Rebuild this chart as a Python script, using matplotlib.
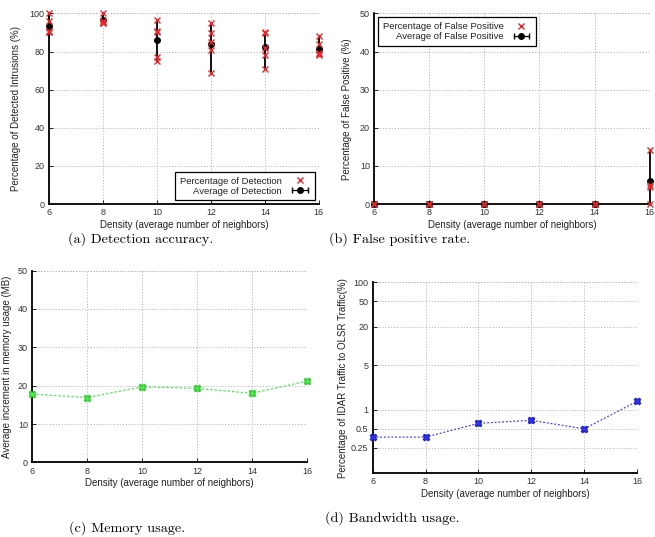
import numpy as np
import matplotlib
matplotlib.use('Agg')
import matplotlib.pyplot as plt
from matplotlib.lines import Line2D
from matplotlib.legend_handler import HandlerLine2D

plt.rcParams['font.family'] = ['Liberation Sans', 'DejaVu Sans']
plt.rcParams['font.size'] = 6.5

density = [6, 8, 10, 12, 14, 16]

# detection rate per run (%) for each density
detection_runs = [
    [100, 96, 91, 90, 90.5],
    [100, 96, 95.5, 95, 95],
    [96.5, 91, 90, 77, 75],
    [95, 89.5, 85, 81, 69],
    [90.5, 89.5, 82, 78, 71],
    [88, 84, 79, 78, 78.5],
]

# false positive rate per run (%)
false_pos_runs = [
    [0, 0, 0, 0],
    [0, 0, 0, 0],
    [0, 0, 0, 0],
    [0, 0, 0, 0],
    [0, 0, 0, 0],
    [14.3, 5, 4.6, 0],
]

memory_mb = [17.8, 16.9, 19.7, 19.3, 18.0, 21.2]
bandwidth_pct = [0.37, 0.37, 0.61, 0.68, 0.50, 1.35]

grid_kw = dict(color='#b8b8b8', linestyle=(0, (1.2, 1.8)), linewidth=0.7)


def style_axes(ax):
    ax.spines['top'].set_visible(False)
    ax.spines['right'].set_visible(False)
    ax.spines['left'].set_linewidth(1.3)
    ax.spines['bottom'].set_linewidth(1.3)
    ax.grid(True, **grid_kw)
    ax.set_axisbelow(True)
    ax.tick_params(direction='in', length=3, width=0.6, labelsize=6.5, pad=3,
                   labelcolor='#333333')
    ax.set_xlim(6, 16)
    ax.set_xticks(density)
    ax.set_xlabel('Density (average number of neighbors)', fontsize=7, labelpad=2,
                  color='#222222')
    # grid lines at top and right edges
    ax.axhline(ax.get_ylim()[1], zorder=0, **grid_kw)
    ax.axvline(16, zorder=0, **grid_kw)


def runs_plot(ax, runs, label_pct, label_avg, legend_loc):
    xs, ys = [], []
    for d, r in zip(density, runs):
        xs += [d] * len(r)
        ys += r
    means = [np.mean(r) for r in runs]
    lo = [m - min(r) for m, r in zip(means, runs)]
    hi = [max(r) - m for m, r in zip(means, runs)]
    ax.errorbar(density, means, yerr=[lo, hi], fmt='o', color='black',
                markersize=4, elinewidth=1.3, capsize=0, zorder=3, clip_on=False)
    ax.plot(xs, ys, 'x', color='#e8262a', markersize=5, markeredgewidth=1.0,
            zorder=4, clip_on=False)
    line = Line2D([], [], color='black', marker='|', markersize=5, linewidth=0.9)
    dot = Line2D([], [], color='black', marker='o', linestyle='none', markersize=4)
    cross = Line2D([], [], color='#e8262a', marker='x', linestyle='none',
                   markersize=5, markeredgewidth=1.0)
    leg = ax.legend([cross, (line, dot)], [label_pct, label_avg], loc=legend_loc,
                    markerfirst=False, fancybox=False, edgecolor='black',
                    framealpha=1, fontsize=6.8, handlelength=2.2,
                    labelspacing=0.1, borderpad=0.5, borderaxespad=0.4,
                    handler_map={line: HandlerLine2D(numpoints=2)})
    leg.get_frame().set_linewidth(0.9)
    for t in leg.get_texts():
        t.set_color('#222222')


fig = plt.figure(figsize=(6.55, 5.37), dpi=100)

# (a) detection accuracy
ax1 = fig.add_axes([0.0748, 0.620, 0.412, 0.355])
ax1.set_ylim(0, 100)
ax1.set_yticks([0, 20, 40, 60, 80, 100])
style_axes(ax1)
runs_plot(ax1, detection_runs, 'Percentage of Detection', 'Average of Detection', 'lower right')
ax1.set_ylabel('Percentage of Detected Intrusions (%)', fontsize=7, labelpad=6, color='#222222')

# (b) false positive rate
ax2 = fig.add_axes([0.571, 0.620, 0.421, 0.355])
ax2.set_ylim(0, 50)
ax2.set_yticks([0, 10, 20, 30, 40, 50])
style_axes(ax2)
runs_plot(ax2, false_pos_runs, 'Percentage of False Positive', 'Average of False Positive', 'upper left')
ax2.set_ylabel('Percentage of False Positive (%)', fontsize=7, labelpad=6, color='#222222')

# (c) memory usage
ax3 = fig.add_axes([0.0489, 0.139, 0.420, 0.357])
ax3.set_ylim(0, 50)
ax3.set_yticks([0, 10, 20, 30, 40, 50])
style_axes(ax3)
ax3.plot(density, memory_mb, color='#55e855', linestyle=(0, (2, 1.5)), linewidth=0.9,
         marker='X', markersize=4.5, markerfacecolor='#55e855', markeredgecolor='#33cc33',
         clip_on=False, zorder=3)
ax3.set_ylabel('Average increment in memory usage (MB)', fontsize=7, labelpad=4, color='#222222')

# (d) bandwidth usage
ax4 = fig.add_axes([0.569, 0.1186, 0.4035, 0.3557])
ax4.set_yscale('log')
ax4.set_ylim(0.1, 100)
ax4.set_yticks([0.25, 0.5, 1, 5, 20, 50, 100])
ax4.set_yticklabels(['0.25', '0.5', '1', '5', '20', '50', '100'])
ax4.minorticks_off()
style_axes(ax4)
ax4.plot(density, bandwidth_pct, color='#4444ee', linestyle=(0, (1.5, 1.5)), linewidth=0.9,
         marker='X', markersize=4.5, markerfacecolor='#3333ee', markeredgecolor='#2222cc',
         clip_on=False, zorder=3)
ax4.set_ylabel('Percentage of IDAR Traffic to OLSR Traffic(%)', fontsize=7, labelpad=2, color='#222222')

# captions
cap = dict(family='cmr10', fontsize=10.2, ha='center', va='center')
fig.text(141 / 655, 1 - 239 / 537, '(a) Detection accuracy.', **cap)
fig.text(400 / 655, 1 - 239 / 537, '(b) False positive rate.', **cap)
fig.text(127 / 655, 1 - 528 / 537, '(c) Memory usage.', **cap)
fig.text(392 / 655, 1 - 518 / 537, '(d) Bandwidth usage.', **cap)

fig.savefig('out.png', dpi=100)
